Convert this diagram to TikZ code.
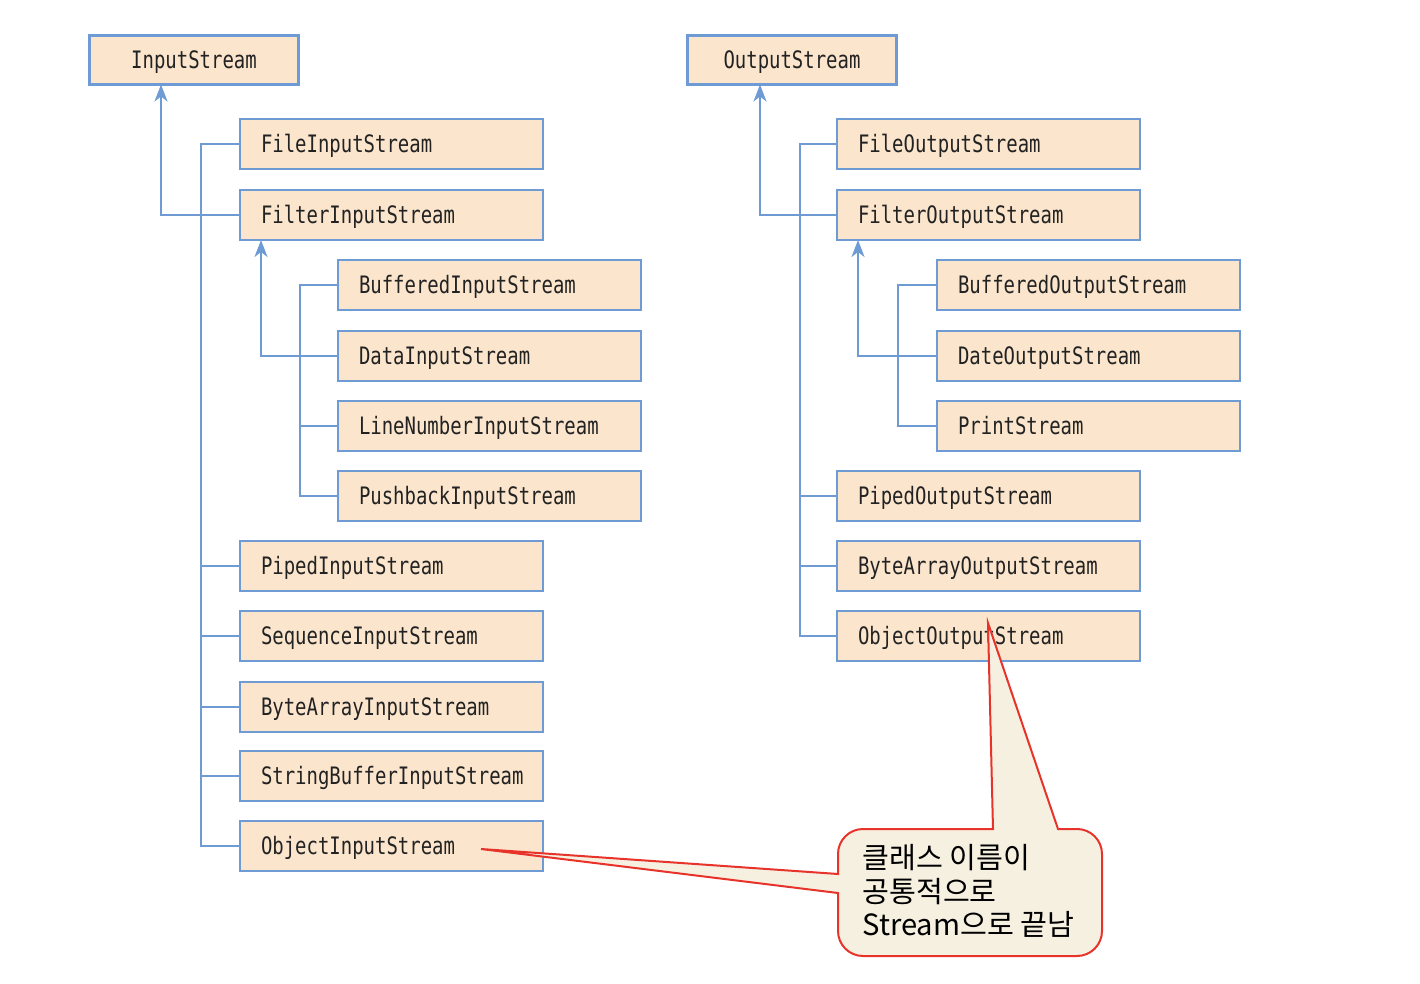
\documentclass[tikz,border=0pt]{standalone}
\usepackage{fontspec}
\newfontfamily\boxfont[FakeStretch=0.79]{DejaVu Sans Mono}
\newfontfamily\krfont{Noto Sans CJK KR}
\usetikzlibrary{arrows.meta}
\definecolor{peach}{HTML}{FBE6CD}
\definecolor{lineblue}{HTML}{6F9BD5}
\definecolor{callfill}{HTML}{F6F0E1}
\definecolor{callred}{HTML}{E8332A}
\definecolor{txt}{HTML}{222222}
\begin{document}
\begin{tikzpicture}[x=0.5pt,y=-0.5pt,
  cls/.style={draw=lineblue, fill=peach, line width=1pt, anchor=north west,
    outer sep=0pt, minimum height=25pt, text width=130.5pt, inner xsep=10.5pt, inner ysep=0pt,
    align=left, font={\boxfont\fontsize{12}{14}\selectfont}, text=txt,
    text height=8.8pt, text depth=0pt},
  root/.style={draw=lineblue, fill=peach, line width=1.5pt, anchor=north west,
    outer sep=0pt, minimum width=104.5pt, minimum height=24.5pt, inner sep=0pt,
    font={\boxfont\fontsize{12}{14}\selectfont}, text=txt,
    text height=8.8pt, text depth=0pt},
  link/.style={draw=lineblue, line width=1pt},
  inh/.style={link, -{Stealth[length=8.5pt,width=6.5pt,inset=2.5pt]}}
]
\useasboundingbox (0,0) rectangle (1420,984);

% left hierarchy
\node[root] (is) at (89.5,35.5) {InputStream};
\node[cls] (fis) at (240,119) {FileInputStream};
\node[cls] (filis) at (240,190) {FilterInputStream};
\node[cls] (bis) at (338,260) {BufferedInputStream};
\node[cls] (dis) at (338,331) {DataInputStream};
\node[cls] (lnis) at (338,401) {LineNumberInputStream};
\node[cls] (pbis) at (338,471) {PushbackInputStream};
\node[cls] (pis) at (240,541) {PipedInputStream};
\node[cls] (sis) at (240,611) {SequenceInputStream};
\node[cls] (bais) at (240,682) {ByteArrayInputStream};
\node[cls] (sbis) at (240,751) {StringBufferInputStream};
\node[cls] (ois) at (240,821) {ObjectInputStream};

% right hierarchy
\node[root] (os) at (687.5,35.5) {OutputStream};
\node[cls] (fos) at (837,119) {FileOutputStream};
\node[cls] (filos) at (837,190) {FilterOutputStream};
\node[cls] (bos) at (937,260) {BufferedOutputStream};
\node[cls] (dos) at (937,331) {DateOutputStream};
\node[cls] (ps) at (937,401) {PrintStream};
\node[cls] (pos) at (837,471) {PipedOutputStream};
\node[cls] (baos) at (837,541) {ByteArrayOutputStream};
\node[cls] (oos) at (837,611) {ObjectOutputStream};

\coordinate (tL) at (201,0);
\coordinate (sL) at (300,0);
\coordinate (aL) at (161,0);
\coordinate (bL) at (261,0);
\coordinate (tR) at (800,0);
\coordinate (sR) at (898,0);
\coordinate (aR) at (760,0);
\coordinate (bR) at (858,0);

% left connectors
\draw[link] (fis.west) -- (fis.west -| tL) -- (ois.west -| tL) -- (ois.west);
\foreach \n in {filis,pis,sis,bais,sbis} \draw[link] (\n.west) -- (\n.west -| tL);
\draw[link] (bis.west) -- (bis.west -| sL) -- (pbis.west -| sL) -- (pbis.west);
\foreach \n in {dis,lnis} \draw[link] (\n.west) -- (\n.west -| sL);
\draw[inh] (filis.west) -| (is.south -| aL);
\draw[inh] (dis.west) -| (filis.south -| bL);

% right connectors
\draw[link] (fos.west) -- (fos.west -| tR) -- (oos.west -| tR) -- (oos.west);
\foreach \n in {filos,pos,baos} \draw[link] (\n.west) -- (\n.west -| tR);
\draw[link] (bos.west) -- (bos.west -| sR) -- (ps.west -| sR) -- (ps.west);
\draw[link] (dos.west) -- (dos.west -| sR);
\draw[inh] (filos.west) -| (os.south -| aR);
\draw[inh] (dos.west) -| (filos.south -| bR);

% callout
\coordinate (tipA) at (988,623);
\coordinate (tipB) at (481,849);
\draw[callred, fill=callfill, line width=1pt, line join=miter]
  (993,829) -- (tipA) -- (1058,829) -- (1077,829)
  arc[start angle=90, end angle=0, radius=12.5pt] -- (1102,931)
  arc[start angle=0, end angle=-90, radius=12.5pt] -- (863,956)
  arc[start angle=-90, end angle=-180, radius=12.5pt] -- (838,893)
  -- (tipB) -- (838,874) -- (838,854)
  arc[start angle=180, end angle=90, radius=12.5pt] -- cycle;
\node[font={\krfont\fontsize{14.6}{16.75}\selectfont}, align=left, anchor=west,
  inner sep=0pt, text=black] (note) at (862,891)
  {클래스 이름이\\공통적으로\\Stream으로 끝남};
\end{tikzpicture}
\end{document}
